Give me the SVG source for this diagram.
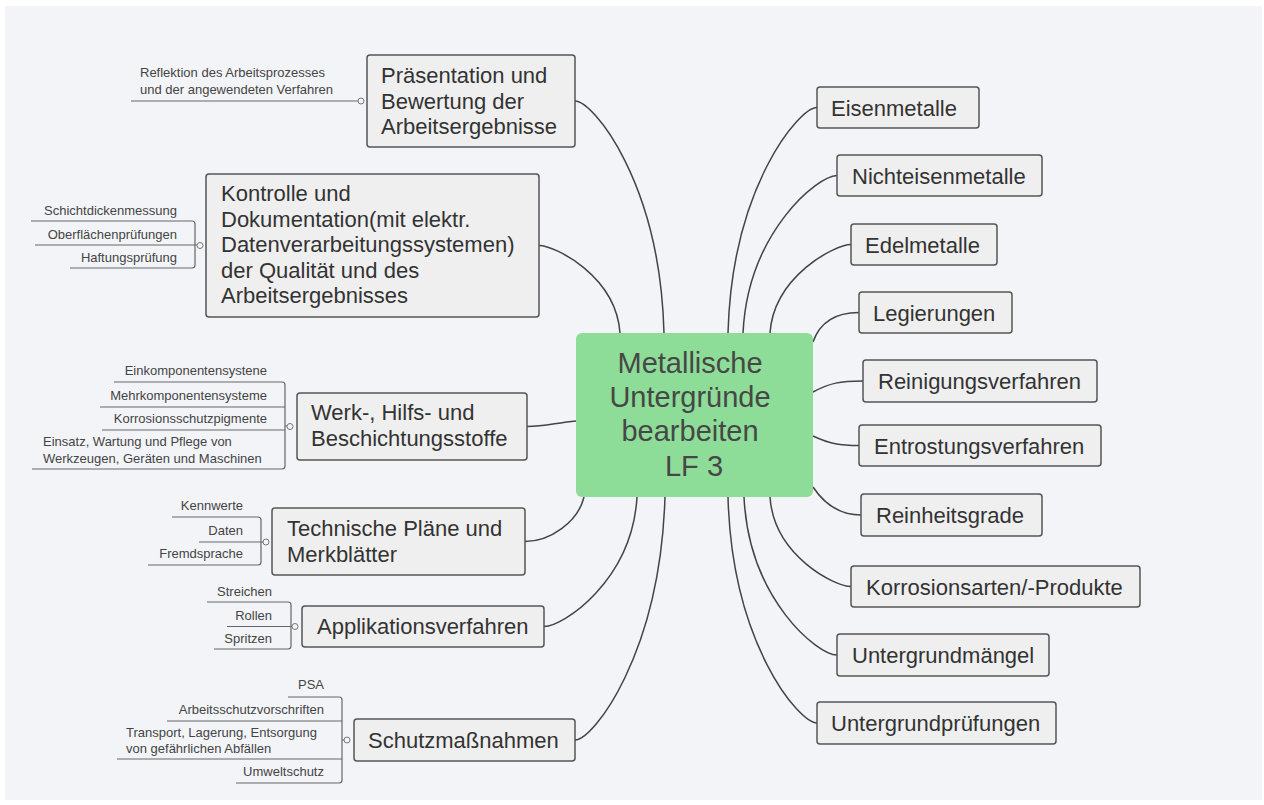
<svg xmlns="http://www.w3.org/2000/svg" width="1264" height="805" viewBox="0 0 1264 805">
<style>
.t{font-family:"Liberation Sans",Arial,sans-serif;font-size:22px;fill:#333}
.s{font-family:"Liberation Sans",Arial,sans-serif;font-size:13px;fill:#444}
.e{text-anchor:end}
.box{fill:#efefef;stroke:#555;stroke-width:1.5}
.c{fill:none;stroke:#444;stroke-width:1.5}
.br{fill:none;stroke:#666;stroke-width:1.2}
.dot{fill:#f3f4f8;stroke:#777;stroke-width:1}
.ct{font-family:"Liberation Sans",Arial,sans-serif;font-size:29px;fill:#474747;text-anchor:middle}
</style>
<rect x="0" y="0" width="1264" height="805" fill="#ffffff"/>
<rect x="5" y="6" width="1257" height="794" fill="#f3f4f8"/>
<g id="connectors">
<path class="c" d="M728 333 C732 187 799 107.5 817 107.5"/>
<path class="c" d="M743 333 C748 232 818 175.5 837 175.5"/>
<path class="c" d="M770 333 C774 276 835 244.5 851 244.5"/>
<path class="c" d="M813 342 C820 322 835 312.5 859 312.5"/>
<path class="c" d="M813 392 C830 383 840 381 863 381"/>
<path class="c" d="M813 436 C830 444 840 445.5 859 445.5"/>
<path class="c" d="M813 487 C825 505 840 515 861 515"/>
<path class="c" d="M770 497 C774 556 835 586.5 851 586.5"/>
<path class="c" d="M744 497 C749 600 818 655 837 655"/>
<path class="c" d="M728 497 C732 644 799 723 817 723"/>
<path class="c" d="M664 333 C660 182 593 101 575 101"/>
<path class="c" d="M620 333 C616 276 555 245.5 539 245.5"/>
<path class="c" d="M576 421 C555 423 545 426.5 527 426.5"/>
<path class="c" d="M584 497 C578 522 550 541.5 525 541.5"/>
<path class="c" d="M637 497 C632 581 563 626.5 544 626.5"/>
<path class="c" d="M665 497 C660 655 593 740 575 740"/>
<!-- sub-topic brackets -->
<path class="br" d="M131 101 H358"/>
<path class="br" d="M31 221 H192 Q195 221 195 224 V265 Q195 268 192 268 H70 M35 245 H197"/>
<path class="br" d="M114 382 H282 Q285 382 285 385 V466 Q285 469 282 469 H32 M100 407 H285 M102 430 H285 M285 426 H287"/>
<path class="br" d="M172 517 H258 Q261 517 261 520 V562 Q261 565 258 565 H148 M199 542 H263"/>
<path class="br" d="M207 602 H288 Q291 602 291 605 V646 Q291 649 288 649 H214 M227 626.5 H292"/>
<path class="br" d="M288 697 H339 Q342 697 342 700 V780 Q342 783 339 783 H236 M167 721 H342 M117 759 H342 M342 740 H344"/>
<circle class="dot" cx="361" cy="101" r="3"/>
<circle class="dot" cx="200" cy="245.5" r="3"/>
<circle class="dot" cx="290" cy="426.5" r="3"/>
<circle class="dot" cx="266" cy="542" r="3"/>
<circle class="dot" cx="295" cy="626.5" r="3"/>
<circle class="dot" cx="347" cy="740" r="3"/>
</g>
<g id="center">
<rect x="576" y="333" width="237" height="164" rx="6" fill="#8ddd98"/>
<text class="ct" x="690" y="373">Metallische</text>
<text class="ct" x="690" y="407">Untergründe</text>
<text class="ct" x="690" y="441">bearbeiten</text>
<text class="ct" x="694" y="476">LF 3</text>
</g>
<g id="n-eisen"><rect class="box" x="817" y="87" width="162" height="41" rx="3"/><text class="t" x="831" y="115.5">Eisenmetalle</text></g>
<g id="n-nichteisen"><rect class="box" x="837" y="155" width="205" height="41" rx="3"/><text class="t" x="852" y="183.5">Nichteisenmetalle</text></g>
<g id="n-edel"><rect class="box" x="851" y="224" width="146" height="41" rx="3"/><text class="t" x="865" y="252.5">Edelmetalle</text></g>
<g id="n-leg"><rect class="box" x="859" y="292" width="153" height="41" rx="3"/><text class="t" x="873" y="320.5">Legierungen</text></g>
<g id="n-rein"><rect class="box" x="863" y="360" width="234" height="42" rx="3"/><text class="t" x="878" y="389">Reinigungsverfahren</text></g>
<g id="n-entrost"><rect class="box" x="859" y="425" width="242" height="41" rx="3"/><text class="t" x="874" y="453.5">Entrostungsverfahren</text></g>
<g id="n-reinheit"><rect class="box" x="861" y="494" width="181" height="42" rx="3"/><text class="t" x="876" y="523">Reinheitsgrade</text></g>
<g id="n-korr"><rect class="box" x="851" y="566" width="289" height="41" rx="3"/><text class="t" x="866" y="594.5">Korrosionsarten/-Produkte</text></g>
<g id="n-maengel"><rect class="box" x="837" y="634" width="212" height="42" rx="3"/><text class="t" x="852" y="663">Untergrundmängel</text></g>
<g id="n-pruef"><rect class="box" x="817" y="702" width="239" height="42" rx="3"/><text class="t" x="831" y="731">Untergrundprüfungen</text></g>
<g id="n-praes"><rect class="box" x="367" y="55" width="208" height="92" rx="3"/>
<text class="t" x="381" y="83">Präsentation und</text><text class="t" x="381" y="108.5">Bewertung der</text><text class="t" x="381" y="134">Arbeitsergebnisse</text></g>
<g id="s-praes"><text class="s" x="140" y="77">Reflektion des Arbeitsprozesses</text><text class="s" x="140" y="94">und der angewendeten Verfahren</text></g>
<g id="n-kontrolle"><rect class="box" x="206" y="174" width="333" height="143" rx="3"/>
<text class="t" x="221" y="201">Kontrolle und</text><text class="t" x="221" y="226.5">Dokumentation(mit elektr.</text><text class="t" x="221" y="252">Datenverarbeitungssystemen)</text><text class="t" x="221" y="277.5">der Qualität und des</text><text class="t" x="221" y="303">Arbeitsergebnisses</text></g>
<g id="s-kontrolle"><text class="s e" x="177" y="215">Schichtdickenmessung</text><text class="s e" x="177" y="238.5">Oberflächenprüfungen</text><text class="s e" x="177" y="262">Haftungsprüfung</text></g>
<g id="n-werk"><rect class="box" x="297" y="393" width="230" height="67" rx="3"/>
<text class="t" x="311" y="420">Werk-, Hilfs- und</text><text class="t" x="311" y="446">Beschichtungsstoffe</text></g>
<g id="s-werk"><text class="s e" x="267" y="375">Einkomponentensystene</text><text class="s e" x="267" y="400">Mehrkomponentensysteme</text><text class="s e" x="267" y="423">Korrosionsschutzpigmente</text>
<text class="s" x="43" y="446">Einsatz, Wartung und Pflege von</text><text class="s" x="43" y="463">Werkzeugen, Geräten und Maschinen</text></g>
<g id="n-tech"><rect class="box" x="272" y="508" width="253" height="67" rx="3"/>
<text class="t" x="287" y="536">Technische Pläne und</text><text class="t" x="287" y="562">Merkblätter</text></g>
<g id="s-tech"><text class="s e" x="243" y="510">Kennwerte</text><text class="s e" x="243" y="535">Daten</text><text class="s e" x="243" y="558">Fremdsprache</text></g>
<g id="n-appl"><rect class="box" x="302" y="606" width="242" height="41" rx="3"/><text class="t" x="317" y="634">Applikationsverfahren</text></g>
<g id="s-appl"><text class="s e" x="272" y="596">Streichen</text><text class="s e" x="272" y="620">Rollen</text><text class="s e" x="272" y="643">Spritzen</text></g>
<g id="n-schutz"><rect class="box" x="354" y="719" width="221" height="42" rx="3"/><text class="t" x="368" y="748">Schutzmaßnahmen</text></g>
<g id="s-schutz"><text class="s e" x="324" y="689">PSA</text><text class="s e" x="324" y="714">Arbeitsschutzvorschriften</text>
<text class="s" x="126" y="737">Transport, Lagerung, Entsorgung</text><text class="s" x="126" y="753">von gefährlichen Abfällen</text><text class="s e" x="324" y="776">Umweltschutz</text></g>
</svg>
